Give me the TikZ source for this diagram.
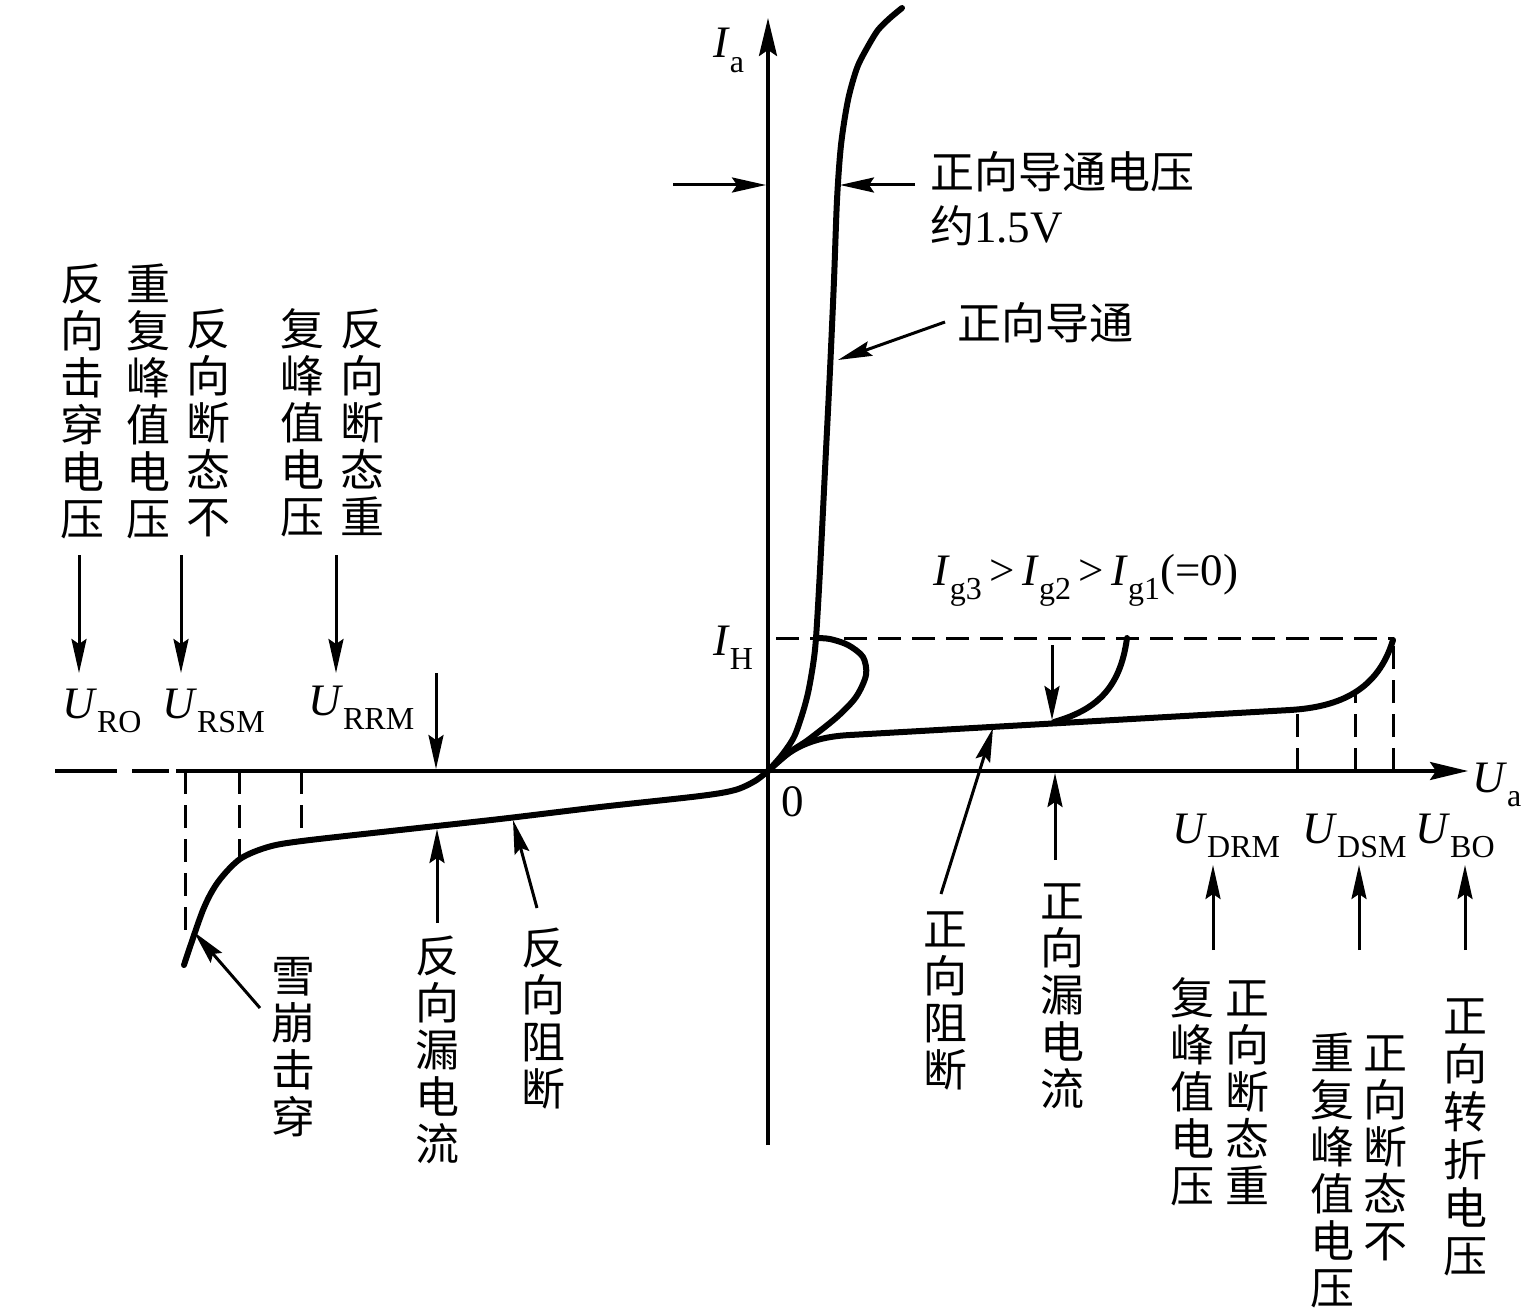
\documentclass[tikz,border=0pt]{standalone}
\usepackage{fontspec}
\setmainfont{Liberation Serif}
\newfontfamily\cjkf{Noto Sans CJK SC}
\usetikzlibrary{arrows.meta}
\newcommand\sbs[1]{\raisebox{-0.32em}{\fontsize{32}{32}\selectfont #1}}
\newcommand\VTsplit[1]{\ifx#1\relax\else\hbox to 46pt{\hss#1\hss}\expandafter\VTsplit\fi}
\newcommand\VT[2][47pt]{\vtop{\baselineskip=#1\lineskiplimit=-1000pt\lineskip=0pt\VTsplit#2\relax}}
\tikzset{
  axisline/.style={line width=3.4pt, -{Stealth[length=38pt,width=18pt,inset=6pt]}},
  curve/.style={line width=6pt, line cap=round, line join=round},
  ann/.style={line width=3pt, -{Stealth[length=34pt,width=15pt,inset=5pt]}},
  dsh/.style={line width=3pt, dash pattern=on 23pt off 11pt},
  cjk/.style={font=\cjkf\fontsize{44}{47}\selectfont, inner sep=0pt},
  lat/.style={font=\fontsize{45}{48}\selectfont, inner sep=0pt},
}
\begin{document}
\begin{tikzpicture}[x=1pt,y=-1pt]
\useasboundingbox (0,0) rectangle (1536,1308);
% axes
\coordinate (yb) at (768,1145);
\coordinate (yt) at (768,18);
\coordinate (xl) at (176,771);
\coordinate (xr) at (1468,771);
\coordinate (o) at (768,771);
\draw[axisline] (yb) -- (yt);
\draw[axisline] (xl) -- (xr);
\coordinate (d1a) at (55,771); \coordinate (d1b) at (117,771);
\coordinate (d2a) at (132,771); \coordinate (d2b) at (169,771);
\draw[line width=3.4pt] (d1a) -- (d1b) (d2a) -- (d2b);
% dashed guide lines
\coordinate (ih1) at (776,638); \coordinate (ih2) at (1393,638);
\draw[dsh] (ih1) -- (ih2);
\coordinate (v1a) at (1297,710); \coordinate (v1b) at (1297,771);
\coordinate (v2a) at (1355,692); \coordinate (v2b) at (1355,771);
\coordinate (v3a) at (1393,640); \coordinate (v3b) at (1393,771);
\draw[dsh] (v1b) -- (v1a) (v2b) -- (v2a) (v3b) -- (v3a);
\coordinate (w1a) at (185,771); \coordinate (w1b) at (185,935);
\coordinate (w2a) at (239,771); \coordinate (w2b) at (239,858);
\coordinate (w3a) at (301,771); \coordinate (w3b) at (301,841);
\draw[dsh] (w1a) -- (w1b) (w2a) -- (w2b) (w3a) -- (w3b);
% curves
\draw[curve] plot[smooth] coordinates {(768,771) (782,755) (794,737) (802,715) (808,693) (813,665) (816,638) (820,570) (825,470) (830,370) (834,280) (837,200) (841,145) (848,100) (857,68) (867,48) (878,30) (890,18) (902,8)};
\draw[curve] plot[smooth] coordinates {(768,771) (790,752) (808,740) (837,717) (856,697) (866,675) (863,657) (848,645) (830,639) (816,638)};
\draw[curve] (o) .. controls (790,748) and (812,737) .. (850,735) -- (1290,710) .. controls (1340,707) and (1378,690) .. (1393,640);
\coordinate (br) at (1054,722);
\coordinate (ig2) at (1127,638);
\draw[curve] (br) .. controls (1095,710) and (1120,690) .. (ig2);
\draw[curve] plot[smooth] coordinates {(768,771) (755,781) (735,790) (700,796) (600,807) (500,819) (400,830) (302,841) (268,847) (240,859) (218,882) (203,910) (184,965)};
% annotation arrows
\coordinate (a1s) at (915,185); \coordinate (a1e) at (840,185);
\coordinate (a2s) at (673,185); \coordinate (a2e) at (766,185);
\coordinate (a3s) at (945,322); \coordinate (a3e) at (838,360);
\coordinate (a4s) at (1052,645); \coordinate (a4e) at (1052,720);
\coordinate (a5s) at (436,673); \coordinate (a5e) at (436,769);
\coordinate (b1s) at (79,555); \coordinate (b1e) at (79,673);
\coordinate (b2s) at (181,555); \coordinate (b2e) at (181,673);
\coordinate (b3s) at (336,555); \coordinate (b3e) at (336,673);
\coordinate (c1s) at (437,923); \coordinate (c1e) at (437,829);
\coordinate (c2s) at (537,908); \coordinate (c2e) at (513,820);
\coordinate (c3s) at (260,1008); \coordinate (c3e) at (194,932);
\coordinate (e1s) at (941,894); \coordinate (e1e) at (993,728);
\coordinate (e2s) at (1055,860); \coordinate (e2e) at (1055,773);
\coordinate (f1s) at (1213,950); \coordinate (f1e) at (1213,865);
\coordinate (f2s) at (1359,950); \coordinate (f2e) at (1359,865);
\coordinate (f3s) at (1465,950); \coordinate (f3e) at (1465,865);
\foreach \n in {a1,a2,a3,a4,a5,b1,b2,b3,c1,c2,c3,e1,e2,f1,f2,f3}
  \draw[ann] (\n s) -- (\n e);
% Latin labels
\node[lat, anchor=base west] (ia) at (713,58) {\textit{I}\sbs{a}};
\node[lat, anchor=base west] (ihl) at (713,655) {\textit{I}\sbs{H}};
\node[lat, anchor=base] (zero) at (793,816) {0};
\node[lat, anchor=base west] (ua) at (1472,792) {\textit{U}\sbs{a}};
\node[lat, anchor=base west] (uro) at (62,718) {\textit{U}\sbs{RO}};
\node[lat, anchor=base west] (ursm) at (162,718) {\textit{U}\sbs{RSM}};
\node[lat, anchor=base west] (urrm) at (308,715) {\textit{U}\sbs{RRM}};
\node[lat, anchor=base west] (udrm) at (1172,843) {\textit{U}\sbs{DRM}};
\node[lat, anchor=base west] (udsm) at (1302,843) {\textit{U}\sbs{DSM}};
\node[lat, anchor=base west] (ubo) at (1415,843) {\textit{U}\sbs{BO}};
\node[lat, anchor=base west] (igl) at (933,585) {\textit{I}\sbs{g3}\,>\,\textit{I}\sbs{g2}\,>\,\textit{I}\sbs{g1}(=0)};
% CJK labels
\node[cjk, anchor=base west] (t1) at (930,189) {正向导通电压};
\node[cjk, anchor=base west] (t2) at (930,242) {约{\rmfamily\fontsize{45}{48}\selectfont 1.5V}};
\node[cjk, anchor=base west] (t3) at (957,339) {正向导通};
\node[cjk, anchor=base] (l1) at (82,300) {\VT{反向击穿电压}};
\node[cjk, anchor=base] (l2) at (148,300) {\VT{重复峰值电压}};
\node[cjk, anchor=base] (l3) at (208,345) {\VT{反向断态不}};
\node[cjk, anchor=base] (l4) at (302,345) {\VT{复峰值电压}};
\node[cjk, anchor=base] (l5) at (362,345) {\VT{反向断态重}};
\node[cjk, anchor=base] (m1) at (293,992) {\VT{雪崩击穿}};
\node[cjk, anchor=base] (m2) at (437,972) {\VT{反向漏电流}};
\node[cjk, anchor=base] (m3) at (543,964) {\VT{反向阻断}};
\node[cjk, anchor=base] (r1) at (945,945) {\VT{正向阻断}};
\node[cjk, anchor=base] (r2) at (1062,917) {\VT{正向漏电流}};
\node[cjk, anchor=base] (r3) at (1192,1014) {\VT{复峰值电压}};
\node[cjk, anchor=base] (r4) at (1247,1014) {\VT{正向断态重}};
\node[cjk, anchor=base] (r5) at (1332,1069) {\VT{重复峰值电压}};
\node[cjk, anchor=base] (r6) at (1385,1069) {\VT{正向断态不}};
\node[cjk, anchor=base] (r7) at (1465,1032) {\VT[48pt]{正向转折电压}};
\end{tikzpicture}
\end{document}
